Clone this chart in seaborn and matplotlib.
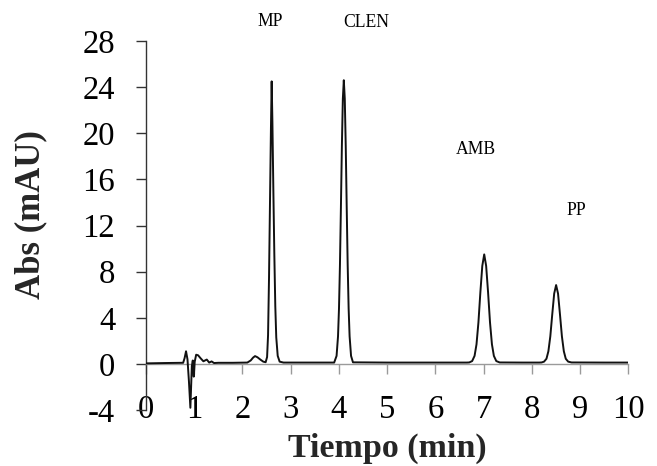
import numpy as np
import pandas as pd
import seaborn as sns
import matplotlib.pyplot as plt

# Chromatogram trace: retention time (min) and absorbance (mAU)
time_min = [
    0.00, 0.40, 0.77, 0.80, 0.83, 0.86, 0.89, 0.92, 0.95, 0.97, 0.99, 1.01,
    1.04, 1.08, 1.13, 1.19, 1.26, 1.31, 1.36, 1.41, 1.50, 1.80, 2.10,
    2.17, 2.22, 2.26, 2.31, 2.37, 2.43, 2.48,
    2.51, 2.53, 2.55, 2.57, 2.59, 2.605, 2.62, 2.64, 2.66, 2.68, 2.70, 2.73,
    2.77, 2.85, 3.50, 3.90,
    3.95, 3.98, 4.00, 4.02, 4.04, 4.06, 4.08, 4.10, 4.12, 4.14, 4.16, 4.18,
    4.20, 4.22, 4.25, 4.29,
    5.00, 6.00, 6.65,
    6.70, 6.76, 6.81, 6.85, 6.89, 6.93, 6.97, 7.01, 7.05, 7.09, 7.13, 7.17,
    7.21, 7.26, 7.33,
    7.80, 8.15,
    8.20, 8.25, 8.30, 8.34, 8.38, 8.42, 8.46, 8.50, 8.54, 8.58, 8.62, 8.66,
    8.70, 8.75, 8.82,
    9.50, 10.00,
]
abs_mau = [
    0.05, 0.08, 0.10, 0.50, 1.10, 0.40, -1.50, -3.80, -0.20, 0.30, -1.10, 0.20,
    0.80, 0.75, 0.50, 0.23, 0.38, 0.12, 0.22, 0.08, 0.10, 0.10, 0.12,
    0.30, 0.55, 0.68, 0.58, 0.38, 0.20, 0.15,
    0.60, 2.50, 7.50, 14.0, 20.5, 24.5, 21.0, 15.0, 9.50, 5.00, 2.30, 0.70,
    0.20, 0.12, 0.12, 0.12,
    0.70, 2.40, 4.80, 8.60, 13.6, 18.9, 23.0, 24.6, 23.0, 18.9, 13.6, 8.60,
    4.80, 2.40, 0.70, 0.14,
    0.12, 0.12, 0.12,
    0.13, 0.25, 0.70, 1.70, 3.60, 6.20, 8.50, 9.50, 8.50, 6.20, 3.60, 1.70,
    0.70, 0.25, 0.13,
    0.12, 0.12,
    0.13, 0.20, 0.45, 1.10, 2.40, 4.30, 6.10, 6.84, 6.10, 4.30, 2.40, 1.10,
    0.45, 0.20, 0.13,
    0.12, 0.12,
]

# Peak annotations
peak_names = ["MP", "CLEN", "AMB", "PP"]
peak_label_x = [2.58, 4.56, 6.84, 8.91]
peak_label_y = [29.7, 29.6, 18.6, 13.3]

x_ticks = list(range(0, 11))
y_ticks = list(range(-4, 29, 4))

df = pd.DataFrame({"Tiempo": time_min, "Abs": abs_mau})

sns.set_style("ticks")
plt.rcParams["font.family"] = ["Liberation Serif", "DejaVu Serif"]

fig = plt.figure(figsize=(6.57, 4.66), dpi=100)
ax = fig.add_axes([0.2222, 0.120, 0.7344, 0.792])

sns.lineplot(data=df, x="Tiempo", y="Abs", color="#111111", linewidth=1.4,
             estimator=None, ax=ax, zorder=3)

ax.set_xlim(0, 10)
ax.set_ylim(-4, 28)
ax.set_xticks(x_ticks)
ax.set_yticks(y_ticks)
ax.set_xticklabels([str(v) for v in x_ticks])
ax.set_yticklabels([str(v) for v in y_ticks])

for side in ("top", "right"):
    ax.spines[side].set_visible(False)
ax.spines["bottom"].set_position(("data", 0))
ax.spines["bottom"].set_color("#9a9a9a")
ax.spines["bottom"].set_linewidth(1.0)
ax.spines["left"].set_color("#333333")
ax.spines["left"].set_linewidth(1.0)

ax.tick_params(axis="x", direction="out", length=7.2, width=1.0,
               color="#9a9a9a", labelcolor="black", pad=15, labelsize=23.5)
ax.tick_params(axis="y", direction="out", length=7.2, width=1.0,
               color="#333333", labelcolor="black", pad=15, labelsize=23.5)

ax.set_xlabel("Tiempo (min)", fontsize=24.5, fontweight="bold", labelpad=5.5)
ax.set_ylabel("Abs (mAU)", fontsize=25, fontweight="bold")
ax.yaxis.set_label_coords(-0.205, 0.53)

for name, lx, ly in zip(peak_names, peak_label_x, peak_label_y):
    ax.text(lx, ly, name, ha="center", va="center", fontsize=12.7,
            color="black", clip_on=False)

fig.savefig("out.png", dpi=100)
